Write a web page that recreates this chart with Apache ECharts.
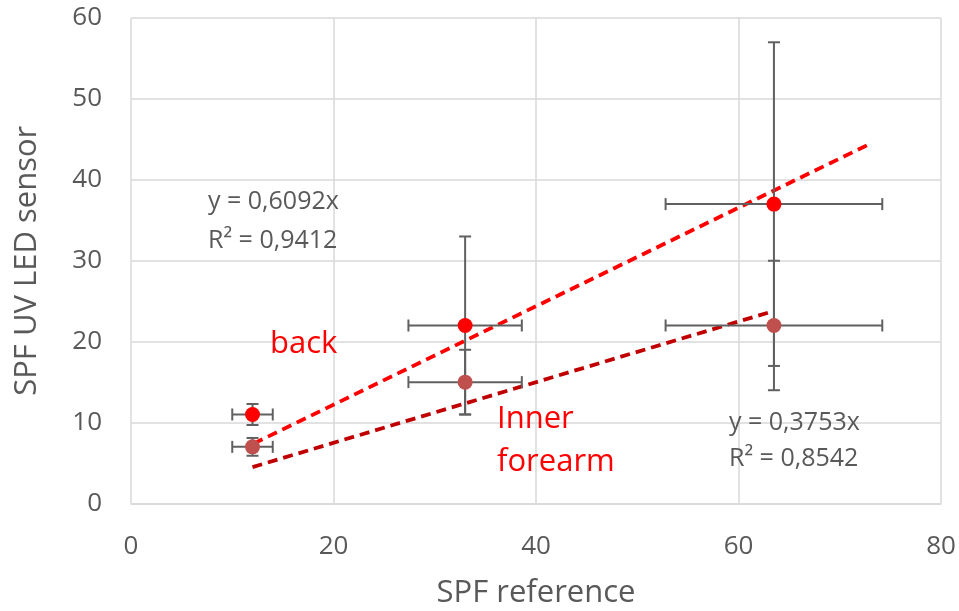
<!DOCTYPE html>
<html>
<head>
<meta charset="utf-8">
<script src="https://cdn.jsdelivr.net/npm/echarts@6/dist/echarts.min.js"></script>
<style>html,body{margin:0;padding:0;background:#fff}#c{width:959px;height:611px}</style>
</head>
<body>
<div id="c"></div>
<script>
// Data
var spfRef = [12, 33, 63.5];
var spfRefErr = [2, 5.6, 10.7];
var backVals = [11, 22, 37];
var backErr = [1.3, 11, 20];
var innerVals = [7, 15, 22];
var innerErr = [1.1, 4, 8];
var backTrend = [[12.1, 7.4], [72.9, 44.4]];
var innerTrend = [[12, 4.5], [63.5, 23.8]];
var xTicks = [0, 20, 40, 60, 80];
var yTicks = [0, 10, 20, 30, 40, 50, 60];

var FONT = 'Open Sans';
var GREY = '#595959';

function pts(vals) { return spfRef.map(function (x, i) { return [x, vals[i]]; }); }
function errData(vals, errs) {
  return spfRef.map(function (x, i) { return [x, vals[i], spfRefErr[i], errs[i]]; });
}
function errRender(params, api) {
  var x = api.value(0), y = api.value(1), ex = api.value(2), ey = api.value(3);
  var l = api.coord([x - ex, y]), r = api.coord([x + ex, y]);
  var t = api.coord([x, y + ey]), b = api.coord([x, y - ey]);
  var c = 6;
  var st = { stroke: '#606060', lineWidth: 2 };
  function ln(x1, y1, x2, y2) { return { type: 'line', shape: { x1: x1, y1: y1, x2: x2, y2: y2 }, style: st }; }
  return { type: 'group', children: [
    ln(l[0], l[1], r[0], r[1]),
    ln(l[0], l[1] - c, l[0], l[1] + c),
    ln(r[0], r[1] - c, r[0], r[1] + c),
    ln(t[0], t[1], b[0], b[1]),
    ln(t[0] - c, t[1], t[0] + c, t[1]),
    ln(b[0] - c, b[1], b[0] + c, b[1])
  ]};
}
function label(x, y, text, color, size) {
  return { type: 'text', x: x, y: y, z: 10,
    style: { text: text, fill: color, font: size + 'px "Open Sans"', verticalAlign: 'middle', align: 'left' } };
}

var chart = echarts.init(document.getElementById('c'));
chart.setOption({
  animation: false,
  backgroundColor: '#fff',
  textStyle: { fontFamily: FONT },
  grid: { left: 131, right: 18, top: 18, bottom: 107.5, containLabel: false, outerBoundsMode: 'none' },
  xAxis: {
    type: 'value', min: xTicks[0], max: xTicks[xTicks.length - 1], interval: 20,
    name: 'SPF reference', nameLocation: 'middle', nameGap: 74,
    nameTextStyle: { color: GREY, fontSize: 31, fontFamily: FONT },
    axisLine: { show: true, lineStyle: { color: '#d9d9d9', width: 1.5 } },
    axisTick: { show: false },
    axisLabel: { color: GREY, fontSize: 26, margin: 30, fontFamily: FONT },
    splitLine: { show: true, lineStyle: { color: '#d9d9d9', width: 1.5 } }
  },
  yAxis: {
    type: 'value', min: yTicks[0], max: yTicks[yTicks.length - 1], interval: 10,
    name: 'SPF UV LED sensor', nameLocation: 'middle', nameGap: 88,
    nameTextStyle: { color: GREY, fontSize: 31, fontFamily: FONT },
    axisLine: { show: false },
    axisTick: { show: false },
    axisLabel: { color: GREY, fontSize: 26, margin: 29, fontFamily: FONT },
    splitLine: { show: true, lineStyle: { color: '#d9d9d9', width: 1.5 } }
  },
  series: [
    { type: 'line', data: backTrend, symbol: 'none', z: 3,
      lineStyle: { color: '#ff0000', width: 3.8, type: [10, 6] } },
    { type: 'line', data: innerTrend, symbol: 'none', z: 3,
      lineStyle: { color: '#c00000', width: 3.8, type: [10, 6] } },
    { type: 'custom', renderItem: errRender, data: errData(backVals, backErr), z: 4 },
    { type: 'custom', renderItem: errRender, data: errData(innerVals, innerErr), z: 4 },
    { type: 'scatter', data: pts(backVals), symbolSize: 15, z: 5,
      itemStyle: { color: '#ff0000', opacity: 1 } },
    { type: 'scatter', data: pts(innerVals), symbolSize: 15, z: 5,
      itemStyle: { color: '#c0504d', opacity: 1 } }
  ],
  graphic: [
    label(208, 202, 'y = 0,6092x', GREY, 25),
    label(208, 241, 'R² = 0,9412', GREY, 25),
    label(729, 423, 'y = 0,3753x', GREY, 25),
    label(729, 459, 'R² = 0,8542', GREY, 25),
    label(270, 344, 'back', '#ff0000', 31),
    label(497, 419, 'Inner', '#ff0000', 31),
    label(497, 462, 'forearm', '#ff0000', 31)
  ]
});
</script>
</body>
</html>
